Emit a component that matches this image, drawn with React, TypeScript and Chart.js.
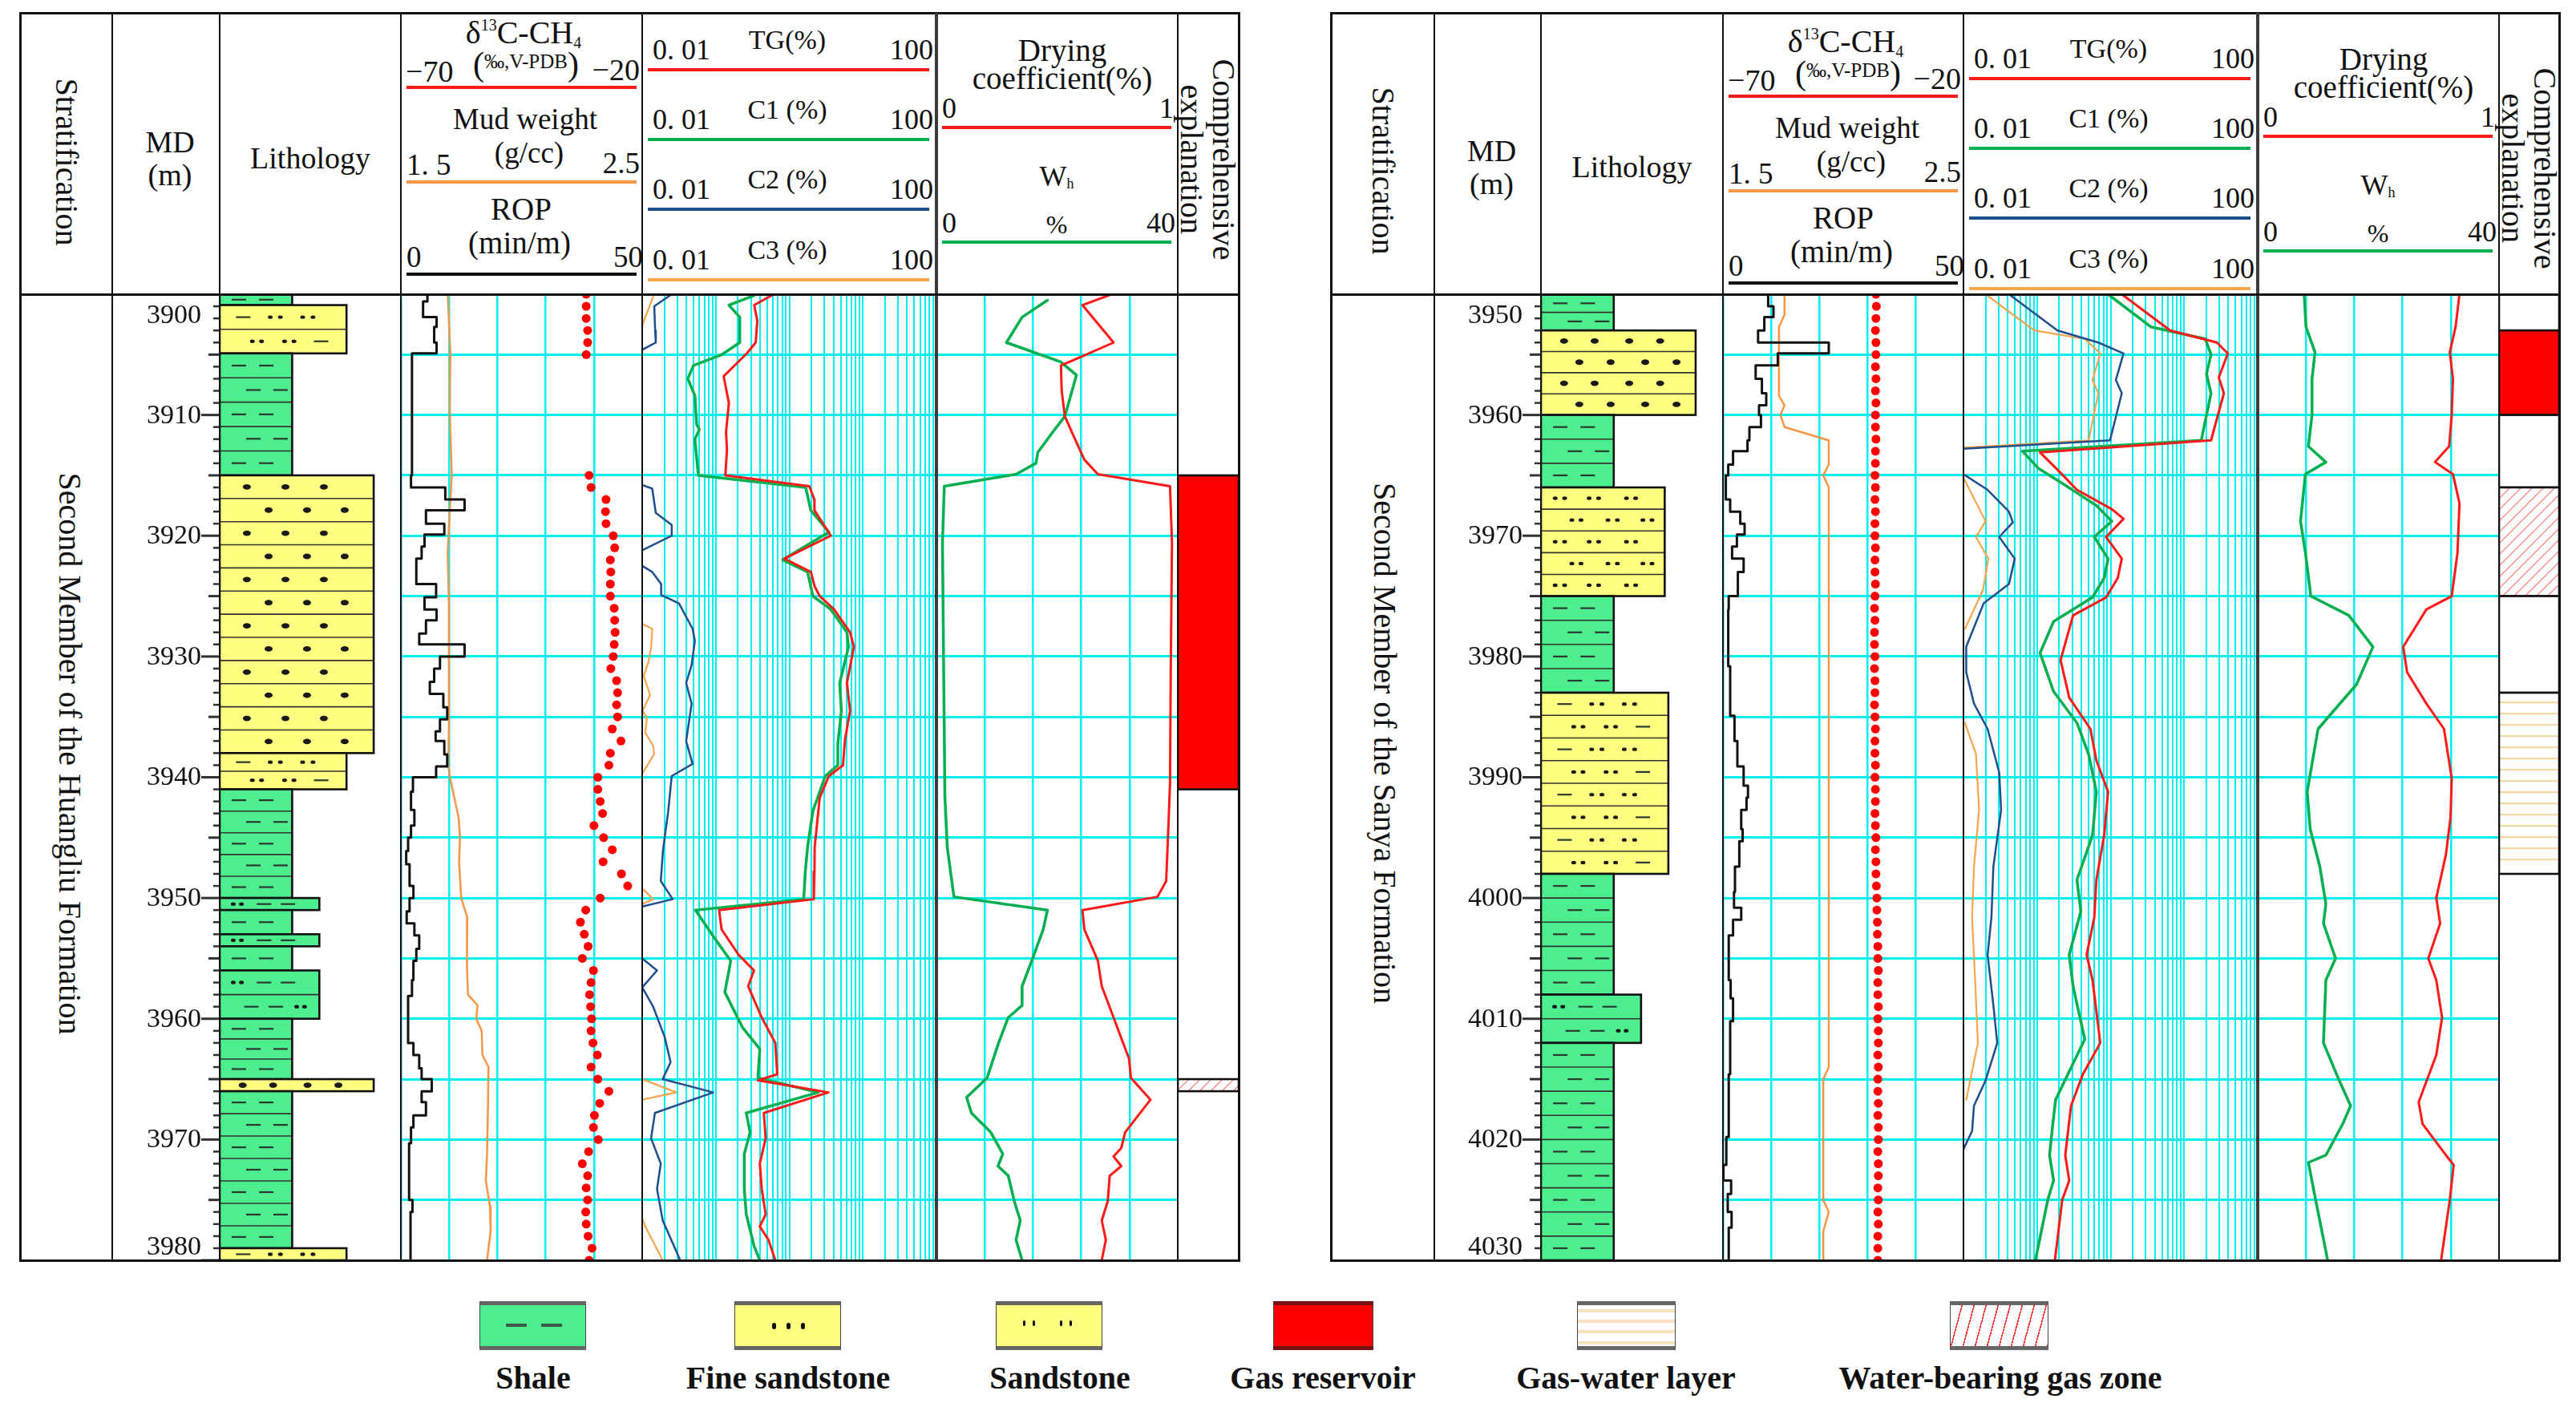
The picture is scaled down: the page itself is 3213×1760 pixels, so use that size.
import React, { useEffect, useRef } from 'react';
import { Chart, registerables } from 'chart.js';

Chart.register(...registerables);

// ------------------------------------------------------------------ data
const DEPTH_L = [3900, 3980];
const DEPTH_R = [3950, 4030];
const MD_TICKS_L = [3900, 3910, 3920, 3930, 3940, 3950, 3960, 3970, 3980];
const MD_TICKS_R = [3950, 3960, 3970, 3980, 3990, 4000, 4010, 4020, 4030];

// lithology: top, base, type
const LITH_L_TOP = [3900, 3900.9, 3904.9, 3915, 3938, 3941, 3950, 3951, 3953, 3954, 3956, 3960, 3965, 3966, 3979];
const LITH_L_BASE = [3900.9, 3904.9, 3915, 3938, 3941, 3950, 3951, 3953, 3954, 3956, 3960, 3965, 3966, 3979, 3980];
const LITH_L_TYPE = ['shale', 'sandstone', 'shale', 'fine', 'sandstone', 'shale', 'silty', 'shale', 'silty', 'shale', 'silty', 'shale', 'fine4', 'shale', 'sandstone'];
const LITH_R_TOP = [3950, 3953, 3960, 3966, 3975, 3983, 3998, 4008, 4012];
const LITH_R_BASE = [3953, 3960, 3966, 3975, 3983, 3998, 4008, 4012, 4030];
const LITH_R_TYPE = ['shale', 'fine4', 'shale', 'sanddots', 'shale', 'sandstone', 'shale', 'silty', 'shale'];

// comprehensive explanation
const COMP_L_TOP = [3915, 3965];
const COMP_L_BASE = [3941, 3966];
const COMP_L_TYPE = ['gas', 'wgas'];
const COMP_R_TOP = [3950, 3953, 3960, 3966, 3975, 3983];
const COMP_R_BASE = [3953, 3960, 3966, 3975, 3983, 3998];
const COMP_R_TYPE = ['none', 'gas', 'none', 'wgas', 'none', 'gw'];

// [depth (m), ROP (min/m)] - value applies from this depth down
const ROP_L = [[3900, 5.5], [3900.6, 4.6], [3901.9, 7.4], [3902.7, 6.9], [3904, 7.4], [3904.9, 2.3], [3915, 2.1], [3916, 9.2], [3917, 13.2], [3917.9, 5.2], [3919, 9.0], [3919.9, 4.9], [3920.9, 4.3], [3921.9, 3.2], [3924, 7.3], [3925.1, 4.9], [3926.1, 7.4], [3927, 5.2], [3928.1, 3.8], [3929, 13.2], [3930, 8.1], [3931, 6.9], [3932.1, 6.0], [3933.1, 8.8], [3934.2, 9.6], [3935.2, 8.1], [3936.2, 7.2], [3937, 9.0], [3938.1, 9.6], [3939.1, 7.3], [3940, 2.5], [3941.2, 2.1], [3942.7, 2.8], [3944, 2.1], [3945, 1.5], [3946.1, 1.1], [3947.2, 1.8], [3949, 2.6], [3950, 1.8], [3951.1, 1.2], [3952.1, 2.8], [3953.1, 3.8], [3954.2, 3.2], [3955.2, 2.6], [3956.8, 2.3], [3958.1, 1.5], [3962, 2.6], [3963, 3.8], [3964.1, 4.3], [3965, 6.4], [3966, 4.3], [3966.9, 5.2], [3968, 2.6], [3969, 2.1], [3970.3, 1.7], [3975, 2.4], [3976, 2.0], [3980, 2.0]];
const ROP_R = [[3950, 9.4], [3951, 10.5], [3951.9, 8.6], [3953, 7.3], [3954, 22.0], [3954.9, 11.4], [3955.9, 6.8], [3957, 8.1], [3958.2, 9.0], [3959.2, 7.5], [3960, 7.9], [3961, 5.5], [3962.1, 5.1], [3963, 2.1], [3964.1, 1.1], [3965, 0.6], [3967, 1.5], [3968, 3.6], [3969, 4.5], [3969.9, 2.9], [3970.9, 1.9], [3971.9, 4.3], [3973, 3.1], [3975, 1.2], [3976.1, 1.1], [3980.8, 1.5], [3984.9, 2.4], [3987, 3.0], [3989.1, 4.3], [3990.7, 5.2], [3991.7, 4.9], [3992.7, 3.8], [3994.3, 4.1], [3995.3, 3.4], [3997.4, 2.5], [3999.5, 2.3], [4000.8, 3.8], [4001.8, 2.1], [4003.1, 1.2], [4006.8, 1.6], [4008.3, 2.1], [4010.2, 1.5], [4014.6, 1.2], [4019.8, 0.7], [4022.1, 0.1], [4023.4, 1.7], [4024.5, 1.0], [4026, 1.8], [4027.3, 1.2], [4030, 1.2]];

// [depth, mud weight g/cc]
const MUD_L = [[3900, 1.694], [3904.8, 1.705], [3910, 1.703], [3915, 1.711], [3917.8, 1.703], [3921.4, 1.694], [3925.6, 1.699], [3930.8, 1.699], [3936, 1.699], [3939, 1.696], [3940, 1.703], [3943.3, 1.739], [3945, 1.745], [3947, 1.741], [3950, 1.75], [3951.6, 1.775], [3953.7, 1.773], [3955.7, 1.775], [3958, 1.778], [3958.9, 1.818], [3960, 1.812], [3961, 1.835], [3963, 1.838], [3964, 1.863], [3967.2, 1.861], [3971.3, 1.857], [3973.4, 1.852], [3975.5, 1.869], [3977.6, 1.872], [3980, 1.857]];
const MUD_R = [[3950, 1.756], [3951.7, 1.756], [3952.7, 1.733], [3958.4, 1.733], [3959.2, 1.756], [3960, 1.739], [3961, 1.756], [3962.1, 1.94], [3964.1, 1.94], [3965, 1.917], [3966, 1.94], [4014, 1.94], [4015, 1.917], [4025, 1.917], [4026, 1.94], [4027.6, 1.917], [4030, 1.917]];

// [depth, δ13C-CH4 ‰]
const D13_L = [[3900, -31.6], [3901, -31.6], [3902, -31.6], [3903, -31.3], [3904, -31.3], [3905, -31.6], [3915, -31.0], [3916, -30.6], [3917, -27.5], [3918, -27.6], [3919, -27.5], [3920, -26.0], [3921, -25.7], [3922, -26.6], [3923, -26.5], [3924, -26.6], [3925, -26.6], [3926, -25.8], [3927, -25.7], [3928, -25.6], [3929, -25.8], [3930, -26.0], [3931, -26.5], [3932, -25.3], [3933, -25.1], [3934, -25.3], [3935, -25.1], [3936, -26.2], [3937, -24.4], [3938, -26.6], [3939, -26.9], [3940, -29.2], [3941, -29.2], [3942, -28.7], [3943, -28.2], [3944, -30.0], [3945, -28.0], [3946, -26.2], [3947, -28.1], [3948, -24.3], [3949, -23.0], [3950, -28.7], [3951, -31.7], [3952, -32.8], [3953, -32.0], [3954, -31.2], [3955, -32.4], [3956, -30.1], [3957, -30.6], [3958, -30.9], [3959, -30.7], [3960, -30.5], [3961, -30.6], [3962, -30.2], [3963, -29.3], [3964, -30.6], [3965, -29.2], [3966, -26.9], [3967, -28.8], [3968, -29.9], [3969, -30.1], [3970, -29.1], [3971, -31.1], [3972, -32.4], [3973, -31.3], [3974, -31.6], [3975, -31.3], [3976, -31.7], [3977, -31.6], [3978, -31.2], [3979, -30.4], [3980, -31.0]];
const D13_R = [[3950, -38.2], [3951, -38.1], [3952, -38.2], [3953, -38.3], [3954, -38.2], [3955, -38.2], [3956, -38.3], [3957, -38.2], [3958, -38.3], [3959, -38.2], [3960, -38.3], [3961, -38.3], [3962, -38.2], [3963, -38.3], [3964, -38.3], [3965, -38.4], [3966, -38.3], [3967, -38.4], [3968, -38.3], [3969, -38.4], [3970, -38.4], [3971, -38.3], [3972, -38.4], [3973, -38.4], [3974, -38.3], [3975, -38.4], [3976, -38.5], [3977, -38.4], [3978, -38.5], [3979, -38.5], [3980, -38.4], [3981, -38.5], [3982, -38.4], [3983, -38.4], [3984, -38.5], [3985, -38.4], [3986, -38.3], [3987, -38.4], [3988, -38.4], [3989, -38.3], [3990, -38.4], [3991, -38.3], [3992, -38.3], [3993, -38.4], [3994, -38.3], [3995, -38.2], [3996, -38.3], [3997, -38.2], [3998, -38.2], [3999, -38.1], [4000, -38.0], [4001, -38.0], [4002, -37.9], [4003, -37.9], [4004, -37.8], [4005, -37.8], [4006, -37.7], [4007, -37.8], [4008, -37.8], [4009, -37.7], [4010, -37.8], [4011, -37.7], [4012, -37.7], [4013, -37.8], [4014, -37.7], [4015, -37.8], [4016, -37.8], [4017, -37.7], [4018, -37.8], [4019, -37.7], [4020, -37.7], [4021, -37.8], [4022, -37.7], [4023, -37.7], [4024, -37.8], [4025, -37.7], [4026, -37.8], [4027, -37.7], [4028, -37.8], [4029, -37.8], [4030, -37.8]];

// gas logging [depth, %]  (null = off-scale break)
const TG_L = [[3900.1, 0.577], [3900.9, 0.333], [3902.2, 0.367], [3904.0, 0.349], [3904.9, 0.265], [3906.8, 0.128], [3909.0, 0.151], [3911.4, 0.138], [3912.9, 0.142], [3915.0, 0.135], [3915.9, 1.87], [3917.0, 2.19], [3917.9, 2.2], [3920.0, 3.66], [3921.9, 0.855], [3923.0, 1.96], [3924.2, 2.21], [3925.0, 2.59], [3926.1, 4.06], [3928.0, 6.7], [3929.2, 7.55], [3932.2, 6.07], [3934.5, 6.7], [3936.9, 5.71], [3939.0, 5.37], [3939.9, 3.45], [3941.7, 2.59], [3945.8, 2.21], [3947.8, 2.2], [3950.1, 2.15], [3951.0, 0.111], [3952.6, 0.12], [3954.7, 0.204], [3956.0, 0.331], [3957.3, 0.276], [3959.9, 0.422], [3962.0, 0.645], [3964.6, 0.686], [3965.1, 0.374], [3966.1, 3.4], [3967.8, 0.45], [3969.9, 0.477], [3972.0, 0.397], [3974.1, 0.422], [3976.2, 0.477], [3977.2, 0.397], [3978.3, 0.52], [3980, 0.645]];
const C1_L = [[3900.1, 0.331], [3900.9, 0.151], [3901.9, 0.212], [3904.0, 0.212], [3905.0, 0.121], [3905.9, 0.0497], [3907.0, 0.0417], [3908.4, 0.052], [3910.8, 0.055], [3911.2, 0.06], [3912.0, 0.052], [3915.0, 0.058], [3916.0, 1.67], [3917.9, 1.96], [3919.7, 3.45], [3922.0, 0.81], [3923.0, 1.77], [3925.0, 2.09], [3926.1, 3.66], [3928.0, 6.07], [3929.2, 6.37], [3932.2, 4.84], [3934.5, 5.1], [3937.2, 4.57], [3939.0, 4.57], [3939.9, 3.08], [3942.8, 2.09], [3945.8, 1.77], [3947.8, 1.65], [3950.1, 1.57], [3951.0, 0.053], [3953.4, 0.098], [3955.2, 0.16], [3957.8, 0.133], [3960.7, 0.23], [3962.5, 0.397], [3964.9, 0.374], [3966.1, 2.46], [3967.8, 0.26], [3969.4, 0.293], [3971.2, 0.244], [3974.1, 0.244], [3976.2, 0.26], [3978.8, 0.331], [3980, 0.397]];
const C2_L = [[3900.0, 0.0252], [3901.0, 0.0146], [3903.0, 0.015], [3904.0, 0.0153], [3904.6, 0.01], [3904.7, null], [3915.8, 0.01], [3916.1, 0.0137], [3918.1, 0.0153], [3919.1, 0.0252], [3920.0, 0.0252], [3921.2, 0.01], [3921.3, null], [3922.5, 0.01], [3923.0, 0.0137], [3924.0, 0.0181], [3924.9, 0.0181], [3925.6, 0.0316], [3927.7, 0.0484], [3928.7, 0.052], [3930.7, 0.047], [3932.2, 0.0396], [3933.9, 0.047], [3937.0, 0.0396], [3938.9, 0.0484], [3939.9, 0.0252], [3942.8, 0.0226], [3946.0, 0.0192], [3948.6, 0.0179], [3950.1, 0.026], [3950.7, 0.01], [3950.8, null], [3955.0, 0.01], [3956.0, 0.0159], [3957.4, 0.01], [3959.0, 0.0141], [3961.5, 0.0202], [3963.6, 0.0243], [3965.0, 0.019], [3966.1, 0.0925], [3967.8, 0.0149], [3969.9, 0.0132], [3972.0, 0.0179], [3974.1, 0.0159], [3976.7, 0.019], [3980, 0.0329]];
const C3_L = [[3900.0, 0.0145], [3902.5, 0.0101], [3902.6, null], [3927.3, 0.01], [3927.7, 0.0137], [3929.3, 0.0132], [3930.4, 0.0122], [3931.6, 0.0105], [3933.2, 0.0128], [3934.5, 0.0101], [3935.1, 0.0116], [3936.3, 0.011], [3937.4, 0.0141], [3938.1, 0.0145], [3939.7, 0.01], [3939.8, null], [3949.2, 0.01], [3950.1, 0.0141], [3950.5, 0.01], [3950.6, null], [3965.0, 0.01], [3966.1, 0.0291], [3966.7, 0.01], [3966.8, null], [3976.5, 0.01], [3977.2, 0.011], [3980, 0.019]];
const TG_R = [[3950, 1.42], [3953, 6.47], [3954, 27.9], [3954.9, 39.2], [3956.9, 29.6], [3958.2, 34.7], [3962.1, 23.2], [3963.1, 0.11], [3964.7, 0.202], [3966.2, 0.349], [3967.8, 1.04], [3968.6, 1.5], [3970.1, 0.87], [3971.9, 1.42], [3973.5, 1.25], [3975.1, 0.87], [3976.6, 0.309], [3980.3, 0.209], [3983.4, 0.274], [3986, 0.532], [3988.6, 0.641], [3991.2, 0.924], [3994.8, 0.818], [3998.5, 0.641], [4001.6, 0.6], [4004.7, 0.473], [4006.8, 0.568], [4012, 0.724], [4014.6, 0.42], [4017.2, 0.29], [4021.3, 0.242], [4023.4, 0.274], [4025, 0.22], [4030, 0.175]];
const C1_R = [[3950, 0.924], [3952.7, 3.52], [3953.7, 19.4], [3955, 23.2], [3956.6, 20.1], [3958.2, 23.2], [3962.1, 17.1], [3963, 0.0635], [3964.4, 0.1035], [3965.7, 0.226], [3967.5, 0.641], [3968.8, 1.04], [3970.1, 0.6], [3971.9, 0.924], [3973.5, 0.818], [3975.1, 0.568], [3977.1, 0.168], [3979.7, 0.11], [3982.9, 0.168], [3985.5, 0.349], [3988.1, 0.503], [3991.2, 0.641], [3994.8, 0.568], [3998.5, 0.349], [4001.1, 0.394], [4004.7, 0.274], [4007.3, 0.309], [4011.7, 0.446], [4016.7, 0.179], [4018.7, 0.164], [4021.3, 0.148], [4023.4, 0.168], [4025, 0.14], [4030, 0.095]];
const C2_R = [[3950, 0.0415], [3953, 0.19], [3954, 0.68], [3954.9, 1.5], [3957.1, 1.18], [3958.2, 1.42], [3962.1, 0.982], [3962.8, 0.01], [3962.9, null], [3964.9, 0.01], [3966.2, 0.0213], [3968, 0.0415], [3968.9, 0.0469], [3970.1, 0.0306], [3971.9, 0.0498], [3974, 0.0415], [3975.6, 0.0188], [3979.2, 0.0109], [3981.3, 0.0109], [3983.9, 0.0139], [3986, 0.0213], [3989.6, 0.0306], [3992.7, 0.0325], [3997.4, 0.0255], [4001.6, 0.024], [4004.7, 0.0213], [4008.9, 0.0255], [4012, 0.0288], [4015.1, 0.02], [4017.2, 0.0139], [4019.3, 0.0131], [4020.8, 0.01]];
const C3_R = [[3950, 0.02], [3953, 0.0915], [3953.7, 0.446], [3954.9, 0.724], [3957.1, 0.568], [3958.2, 0.68], [3962.1, 0.503], [3962.7, 0.01], [3962.8, null], [3965.2, 0.01], [3968.8, 0.02], [3970.1, 0.0148], [3971.9, 0.0218], [3974.5, 0.0184], [3977.7, 0.0105], [3977.8, null], [3985.5, 0.0105], [3988.1, 0.0148], [3992.7, 0.0163], [3997.4, 0.0139], [4001.6, 0.0131], [4006.8, 0.0144], [4012, 0.0157], [4016.7, 0.0109]];

// drying coefficient [depth, 0-1] and Wh [depth, %]
const DRY_L = [[3900, 0.726], [3900.9, 0.605], [3904, 0.734], [3905.2, 0.597], [3905.9, 0.516], [3908, 0.519], [3910.1, 0.532], [3911.6, 0.565], [3913.7, 0.613], [3914.9, 0.669], [3915.9, 0.968], [3920.6, 0.976], [3931.1, 0.971], [3940.5, 0.968], [3944.7, 0.96], [3948.6, 0.952], [3949.9, 0.916], [3951, 0.605], [3952.6, 0.613], [3955.2, 0.669], [3957.3, 0.685], [3959.9, 0.734], [3963.3, 0.798], [3964.9, 0.806], [3966.7, 0.887], [3969.4, 0.782], [3970.7, 0.766], [3971.4, 0.734], [3972.2, 0.766], [3973, 0.718], [3975.1, 0.71], [3976.7, 0.685], [3978.3, 0.702], [3980, 0.685]];
const WH_L = [[3900.5, 18.4], [3901.9, 14.2], [3904, 11.6], [3905.6, 20.6], [3906.7, 23.2], [3910.1, 21.3], [3911.6, 19.0], [3913.1, 16.8], [3914, 16.5], [3914.9, 13.2], [3915.9, 1.3], [3920.6, 1.0], [3931.1, 1.2], [3941.6, 1.4], [3945.8, 1.8], [3949.9, 2.9], [3951, 18.4], [3952.6, 17.7], [3955.2, 15.8], [3957.3, 14.2], [3958.9, 14.2], [3959.9, 11.9], [3962, 10.3], [3964.9, 8.4], [3966.5, 5.0], [3967.8, 5.8], [3969.4, 9.0], [3971.2, 11.0], [3972.2, 10.2], [3973, 11.9], [3975.1, 12.9], [3976.7, 13.9], [3978.3, 13.2], [3980, 14.2]];
const DRY_R = [[3950, 0.836], [3952.7, 0.82], [3954.8, 0.796], [3957, 0.809], [3960, 0.804], [3962.6, 0.793], [3963.9, 0.735], [3964.9, 0.809], [3967.3, 0.836], [3971.4, 0.828], [3975, 0.804], [3976.1, 0.699], [3979.2, 0.603], [3981.3, 0.619], [3983.9, 0.699], [3986, 0.772], [3990.1, 0.804], [3993.3, 0.799], [3996.4, 0.78], [4000, 0.74], [4002.1, 0.756], [4005, 0.707], [4006.8, 0.74], [4009.9, 0.764], [4013, 0.74], [4016.9, 0.667], [4018.7, 0.683], [4021.3, 0.78], [4022.1, 0.812], [4025, 0.796], [4030, 0.76]];
const WH_R = [[3950, 7.7], [3952.7, 8.0], [3954.8, 9.5], [3957, 9.0], [3960, 9.0], [3962.6, 8.4], [3963.9, 11.3], [3964.9, 7.9], [3968.8, 7.1], [3971.4, 7.9], [3975, 8.8], [3976.6, 15.1], [3979.2, 19.1], [3982.3, 16.4], [3986, 10.0], [3991.2, 8.2], [3994.3, 8.7], [3997.4, 10.3], [4000.5, 11.3], [4002.1, 10.9], [4005, 12.9], [4006.8, 11.3], [4012, 10.9], [4015.1, 13.5], [4017.2, 15.4], [4018.7, 14.1], [4021.3, 11.3], [4021.9, 8.4], [4025, 9.6], [4030, 11.6]];

const LEGEND_LABELS = ['Shale', 'Fine sandstone', 'Sandstone', 'Gas reservoir', 'Gas-water layer', 'Water-bearing gas zone'];

// ------------------------------------------------------------------ styles
const SERIF = '"Liberation Serif", "Times New Roman", "DejaVu Serif", serif';
const CYAN = '#00F0F2';
const RED = '#FF1A1A';
const GREEN = '#00B050';
const BLUE = '#1F4E8C';
const ORANGE = '#F8A54E';
const MUD_ORANGE = '#F79646';
const SHALE = '#4DEE8E';
const SAND = '#FFFF80';
const TOP = 16;
const HEAD = 367;
const BOTTOM = 1572;

const LITH_STYLE: any = {
  shale: { w: 0.4, fill: SHALE, a: [['dash', 0.106], ['dash', 0.257]], b: [['dash', 0.186], ['dash', 0.336]] },
  silty: { w: 0.55, fill: SHALE, a: [['dot', 0.075], ['dot', 0.12], ['dash', 0.245], ['dash', 0.377]], b: [['dash', 0.175], ['dash', 0.31], ['dot', 0.425], ['dot', 0.468]] },
  fine: { w: 0.85, fill: SAND, a: [['big', 0.15], ['big', 0.363], ['big', 0.575]], b: [['big', 0.27], ['big', 0.482], ['big', 0.69]] },
  fine4: { w: 0.85, fill: SAND, a: [['big', 0.127], ['big', 0.295], ['big', 0.485], ['big', 0.655]], b: [['big', 0.211], ['big', 0.383], ['big', 0.573], ['big', 0.745]] },
  sandstone: { w: 0.7, fill: SAND, a: [['dash', 0.13], ['dot', 0.279], ['dot', 0.335], ['dot', 0.458], ['dot', 0.515]], b: [['dot', 0.18], ['dot', 0.231], ['dot', 0.358], ['dot', 0.41], ['dash', 0.56]] },
  sanddots: { w: 0.68, fill: SAND, a: [['dot', 0.078], ['dot', 0.13], ['dot', 0.265], ['dot', 0.317], ['dot', 0.47], ['dot', 0.52]], b: [['dot', 0.17], ['dot', 0.22], ['dot', 0.368], ['dot', 0.42], ['dot', 0.56], ['dot', 0.61]] },
};

const LOG_GRID: number[] = [];
[0.01, 0.1, 1, 10].forEach((dec) => [1, 2, 3, 4, 5, 6, 7, 8, 9].forEach((m) => LOG_GRID.push(+(dec * m).toPrecision(3))));
LOG_GRID.push(100);

const LEFT = {
  x0: 25, x1: 1545, cols: [140, 274, 500, 801, 1168, 1469], yOff: 0, range: DEPTH_L,
  formation: 'Second Member of the Huangliu Formation', fmX: 87, fmY: 940, md: MD_TICKS_L,
  lith: [LITH_L_TOP, LITH_L_BASE, LITH_L_TYPE], comp: [COMP_L_TOP, COMP_L_BASE, COMP_L_TYPE],
  rop: ROP_L, mud: MUD_L, iso: D13_L, tg: TG_L, c1: C1_L, c2: C2_L, c3: C3_L, dry: DRY_L, wh: WH_L,
};
const RIGHT = {
  x0: 1660, x1: 3192, cols: [1789, 1922, 2149, 2449, 2816, 3117], yOff: 11, range: DEPTH_R,
  formation: 'Second Member of the Sanya Formation', fmX: 1727, fmY: 927, md: MD_TICKS_R,
  lith: [LITH_R_TOP, LITH_R_BASE, LITH_R_TYPE], comp: [COMP_R_TOP, COMP_R_BASE, COMP_R_TYPE],
  rop: ROP_R, mud: MUD_R, iso: D13_R, tg: TG_R, c1: C1_R, c2: C2_R, c3: C3_R, dry: DRY_R, wh: WH_R,
};

// ------------------------------------------------------------------ chart helpers
const pts = (arr: any[]) => arr.map(([d, v]: any) => ({ x: v, y: d }));

function depthScale(range: number[], grid: boolean) {
  if (!grid) return { type: 'linear', reverse: true, min: range[0], max: range[1], display: false };
  return {
    type: 'linear', reverse: true, min: range[0], max: range[1],
    ticks: { display: false, stepSize: 5 }, border: { display: false },
    grid: { color: CYAN, lineWidth: 3, drawTicks: false },
  };
}

function baseOptions(range: number[], xScales: any, grid = true) {
  return {
    responsive: false, maintainAspectRatio: false, animation: false, devicePixelRatio: 1, events: [],
    indexAxis: 'y',
    layout: { padding: 0, autoPadding: false },
    plugins: { legend: { display: false }, tooltip: { enabled: false }, title: { display: false } },
    elements: { point: { radius: 0, hoverRadius: 0 }, line: { tension: 0, borderJoinStyle: 'round', borderCapStyle: 'round' } },
    scales: { ...xScales, y: depthScale(range, grid) },
  };
}

const gridX = (type: string, min: number, max: number, step: number) => ({
  type, min, max,
  ticks: { display: false, stepSize: step },
  border: { display: false },
  grid: { color: CYAN, lineWidth: 2.5, drawTicks: false },
});

function track1(p: any) {
  return {
    type: 'line',
    data: {
      datasets: [
        { data: pts(p.rop), xAxisID: 'x', borderColor: '#111', borderWidth: 3, stepped: 'after', pointRadius: 0 },
        { data: pts(p.mud), xAxisID: 'xMud', borderColor: MUD_ORANGE, borderWidth: 2.5, pointRadius: 0 },
        { data: pts(p.iso), xAxisID: 'xIso', showLine: false, pointRadius: 5.5, pointBackgroundColor: '#FF0000', pointBorderWidth: 0, borderColor: '#FF0000' },
      ],
    },
    options: baseOptions(p.range, {
      x: gridX('linear', 0, 50, 10),
      xMud: { type: 'linear', axis: 'x', min: 1.5, max: 2.5, display: false },
      xIso: { type: 'linear', axis: 'x', min: -70, max: -20, display: false },
    }),
  };
}

function track2(p: any) {
  const ds = (arr: any[], color: string, w: number) => ({ data: pts(arr), borderColor: color, borderWidth: w, pointRadius: 0, spanGaps: false });
  return {
    type: 'line',
    data: { datasets: [ds(p.tg, RED, 3), ds(p.c1, GREEN, 3.5), ds(p.c2, BLUE, 2.5), ds(p.c3, ORANGE, 2.2)] },
    options: baseOptions(p.range, {
      x: {
        type: 'logarithmic', min: 0.01, max: 100,
        ticks: { display: false }, border: { display: false },
        grid: { color: CYAN, lineWidth: 2, drawTicks: false },
        afterBuildTicks: (axis: any) => { axis.ticks = LOG_GRID.map((value) => ({ value })); },
      },
    }),
  };
}

function track3(p: any) {
  return {
    type: 'line',
    data: {
      datasets: [
        { data: pts(p.dry), xAxisID: 'x', borderColor: RED, borderWidth: 3, pointRadius: 0 },
        { data: pts(p.wh), xAxisID: 'xWh', borderColor: GREEN, borderWidth: 3.5, pointRadius: 0 },
      ],
    },
    options: baseOptions(p.range, {
      x: gridX('linear', 0, 1, 0.2),
      xWh: { type: 'linear', axis: 'x', min: 0, max: 40, display: false },
    }),
  };
}

function drawGlyph(ctx: CanvasRenderingContext2D, kind: string, x: number, y: number) {
  ctx.fillStyle = '#1a1a1a';
  if (kind === 'dash') {
    ctx.fillStyle = '#2b3a30';
    ctx.fillRect(x - 9, y - 1.1, 18, 2.2);
  } else if (kind === 'dot') {
    ctx.beginPath(); ctx.ellipse(x, y, 3, 2.2, 0, 0, Math.PI * 2); ctx.fill();
  } else {
    ctx.beginPath(); ctx.ellipse(x, y, 5, 3.4, 0, 0, Math.PI * 2); ctx.fill();
  }
}

function lithPlugin(tops: number[], bases: number[], types: string[]) {
  return {
    id: 'lith',
    afterDatasetsDraw(chart: any) {
      const { ctx } = chart; const xs = chart.scales.x; const ys = chart.scales.y;
      const x0 = xs.getPixelForValue(0); const full = xs.getPixelForValue(1) - x0;
      ctx.save();
      tops.forEach((top, i) => {
        const st = LITH_STYLE[types[i]];
        const x1 = xs.getPixelForValue(st.w);
        const y0 = ys.getPixelForValue(top); const y1 = ys.getPixelForValue(bases[i]);
        ctx.fillStyle = st.fill; ctx.fillRect(x0, y0, x1 - x0, y1 - y0);
        const n = Math.max(1, Math.round((bases[i] - top) / 2));
        const rh = (y1 - y0) / n;
        for (let r = 0; r < n; r++) {
          const ry = y0 + r * rh;
          if (r > 0) { ctx.strokeStyle = '#333'; ctx.lineWidth = 1.6; ctx.beginPath(); ctx.moveTo(x0, ry); ctx.lineTo(x1, ry); ctx.stroke(); }
          (r % 2 === 0 ? st.a : st.b).forEach(([k, f]: any) => drawGlyph(ctx, k, x0 + f * full, ry + rh / 2));
        }
        ctx.strokeStyle = '#111'; ctx.lineWidth = 2.6; ctx.strokeRect(x0, y0, x1 - x0, y1 - y0);
      });
      ctx.restore();
    },
  };
}

function compPlugin(tops: number[], bases: number[], types: string[]) {
  return {
    id: 'comp',
    afterDatasetsDraw(chart: any) {
      const { ctx } = chart; const xs = chart.scales.x; const ys = chart.scales.y;
      const x0 = xs.getPixelForValue(0); const x1 = xs.getPixelForValue(1);
      tops.forEach((top, i) => {
        const y0 = ys.getPixelForValue(top); const y1 = ys.getPixelForValue(bases[i]);
        const w = x1 - x0; const h = y1 - y0;
        ctx.save();
        ctx.fillStyle = types[i] === 'gas' ? '#FF0000' : '#FFFFFF';
        ctx.fillRect(x0, y0, w, h);
        ctx.beginPath(); ctx.rect(x0, y0, w, h); ctx.clip();
        if (types[i] === 'wgas') {
          ctx.strokeStyle = 'rgba(255,70,70,0.6)'; ctx.lineWidth = 1.5;
          for (let k = -h; k < w + h; k += 14) { ctx.beginPath(); ctx.moveTo(x0 + k, y1); ctx.lineTo(x0 + k + h, y0); ctx.stroke(); }
        } else if (types[i] === 'gw') {
          ctx.strokeStyle = '#F7D9A6'; ctx.lineWidth = 2.2;
          for (let yy = y0 + 12; yy < y1 - 4; yy += 14) { ctx.beginPath(); ctx.moveTo(x0, yy); ctx.lineTo(x1, yy); ctx.stroke(); }
        }
        ctx.restore();
        ctx.save(); ctx.strokeStyle = '#111'; ctx.lineWidth = 2.6; ctx.strokeRect(x0, y0, w, h); ctx.restore();
      });
    },
  };
}

function mdPlugin(labels: number[]) {
  return {
    id: 'md',
    afterDraw(chart: any) {
      const { ctx, chartArea } = chart; const ys = chart.scales.y;
      const right = chartArea.right;
      ctx.save();
      ctx.strokeStyle = '#333';
      for (let d = ys.min; d <= ys.max; d++) {
        const py = ys.getPixelForValue(d);
        const len = d % 10 === 0 ? 23 : d % 5 === 0 ? 14 : 8;
        ctx.lineWidth = d % 5 === 0 ? 3 : 2.5;
        ctx.beginPath(); ctx.moveTo(right - len, py); ctx.lineTo(right, py); ctx.stroke();
      }
      ctx.fillStyle = '#111';
      ctx.font = `34px ${SERIF}`;
      ctx.textAlign = 'right'; ctx.textBaseline = 'middle';
      labels.forEach((d) => {
        const py = Math.min(Math.max(ys.getPixelForValue(d), chartArea.top + 26), chartArea.bottom - 17);
        ctx.fillText(String(d), right - 23, py + 1);
      });
      ctx.restore();
    },
  };
}

function blankChart(p: any, plugin: any) {
  return {
    type: 'scatter',
    data: { datasets: [] },
    options: baseOptions(p.range, { x: { type: 'linear', min: 0, max: 1, display: false } }, false),
    plugins: [plugin],
  };
}

// ------------------------------------------------------------------ components
function ChartBox({ x, y, w, h, build }: any) {
  const ref = useRef<HTMLCanvasElement>(null);
  useEffect(() => {
    const chart = new Chart(ref.current as HTMLCanvasElement, build());
    return () => chart.destroy();
  }, []);
  return <canvas ref={ref} width={w} height={h} style={{ position: 'absolute', left: x, top: y, width: w, height: h }} />;
}

const Txt = ({ x, y, size = 36, align = 'c', bold = false, children }: any) => (
  <div style={{
    position: 'absolute', left: x, top: y,
    transform: `translate(${align === 'c' ? '-50%' : align === 'r' ? '-100%' : '0'}, -50%)`,
    fontFamily: SERIF, fontSize: size, fontWeight: bold ? 700 : 400, lineHeight: 1, whiteSpace: 'nowrap', color: '#111',
  }}>{children}</div>
);

const VTxt = ({ x, y, size = 40, lh = 1, children }: any) => (
  <div style={{
    position: 'absolute', left: x, top: y, transform: 'translate(-50%, -50%)', writingMode: 'vertical-rl' as any,
    fontFamily: SERIF, fontSize: size, lineHeight: lh, whiteSpace: 'pre', color: '#111', textAlign: 'center',
  }}>{children}</div>
);

const HL = ({ x1, x2, y, color, h = 4 }: any) => (
  <div style={{ position: 'absolute', left: x1, top: y - h / 2, width: x2 - x1, height: h, background: color }} />
);

function Header({ p }: any) {
  const [c0, c1, c2, c3, c4, c5] = p.cols;
  const o = p.yOff;
  const gasRows = [['TG(%)', RED, 87], ['C1 (%)', GREEN, 174], ['C2 (%)', BLUE, 261], ['C3 (%)', ORANGE, 349]];
  return (
    <>
      <VTxt x={(p.x0 + c0) / 2} y={202 + o} size={40}>Stratification</VTxt>
      <Txt x={(c0 + c1) / 2 + 5} y={177 + o} size={38}>MD</Txt>
      <Txt x={(c0 + c1) / 2 + 5} y={218 + o} size={38}>(m)</Txt>
      <Txt x={(c1 + c2) / 2} y={197 + o} size={38}>Lithology</Txt>

      <Txt x={c2 + 153} y={42 + o} size={40}>δ<sup style={{ fontSize: '0.5em', verticalAlign: '0.8em' }}>13</sup>C-CH<sub style={{ fontSize: '0.5em', verticalAlign: '-0.3em' }}>4</sub></Txt>
      <Txt x={c2 + 6} y={89 + o} size={38} align="l">−70</Txt>
      <Txt x={c3 - 3} y={87 + o} size={38} align="r">−20</Txt>
      <div style={{ position: 'absolute', left: c2 + 156, top: 80 + o, transform: 'translate(-50%, -50%)', display: 'flex', alignItems: 'flex-start', fontFamily: SERIF, lineHeight: 1, whiteSpace: 'nowrap', color: '#111' }}>
        <span style={{ fontSize: 42 }}>(</span><span style={{ fontSize: 25, paddingTop: 5 }}>‰,V-PDB</span><span style={{ fontSize: 42 }}>)</span>
      </div>
      <HL x1={c2 + 7} x2={c3 - 7} y={109 + o} color={RED} />
      <Txt x={c2 + 155} y={148 + o} size={37}>Mud weight</Txt>
      <Txt x={c2 + 160} y={190 + o} size={37}>(g/cc)</Txt>
      <Txt x={c2 + 7} y={205 + o} size={37} align="l">1. 5</Txt>
      <Txt x={c3 - 3} y={203 + o} size={37} align="r">2.5</Txt>
      <HL x1={c2 + 7} x2={c3 - 7} y={227 + o} color={MUD_ORANGE} />
      <Txt x={c2 + 150} y={260 + o} size={39}>ROP</Txt>
      <Txt x={c2 + 148} y={302 + o} size={39}>(min/m)</Txt>
      <Txt x={c2 + 7} y={320 + o} size={37} align="l">0</Txt>
      <Txt x={c3 + 1} y={320 + o} size={37} align="r">50</Txt>
      <HL x1={c2 + 7} x2={c3 - 7} y={342 + o} color="#111" h={4} />

      {gasRows.map(([label, color, ly]: any) => (
        <React.Fragment key={label}>
          <Txt x={c3 + 181} y={ly - 37 + o} size={34}>{label}</Txt>
          <Txt x={c3 + 13} y={ly - 25 + o} size={36} align="l">0. 01</Txt>
          <Txt x={c4 - 4} y={ly - 25 + o} size={36} align="r">100</Txt>
          <HL x1={c3 + 7} x2={c4 - 9} y={ly + o} color={color} />
        </React.Fragment>
      ))}

      <Txt x={c4 + 157} y={62 + o} size={39}>Drying</Txt>
      <Txt x={c4 + 157} y={97 + o} size={39}>coefficient(%)</Txt>
      <Txt x={c4 + 7} y={135 + o} size={36} align="l">0</Txt>
      <Txt x={c5 - 5} y={135 + o} size={36} align="r">1</Txt>
      <HL x1={c4 + 7} x2={c5 - 8} y={159 + o} color={RED} />
      <Txt x={c4 + 150} y={220 + o} size={36}>W<sub style={{ fontSize: '0.5em', verticalAlign: '-0.2em' }}>h</sub></Txt>
      <Txt x={c4 + 7} y={278 + o} size={36} align="l">0</Txt>
      <Txt x={c4 + 150} y={280 + o} size={32}>%</Txt>
      <Txt x={c5 - 3} y={278 + o} size={36} align="r">40</Txt>
      <HL x1={c4 + 7} x2={c5 - 8} y={302 + o} color={GREEN} />

      <VTxt x={c5 + 37} y={199 + o} size={40} lh={1}>{'Comprehensive\nexplanation'}</VTxt>

      <VTxt x={p.fmX} y={p.fmY} size={40}>{p.formation}</VTxt>
    </>
  );
}

function Frame({ p }: any) {
  return (
    <>
      <div style={{ position: 'absolute', left: p.x0 - 1.5, top: TOP - 1.5, width: p.x1 - p.x0 + 3, height: BOTTOM - TOP + 3, border: '3px solid #111', boxSizing: 'border-box' }} />
      {p.cols.map((c: number, i: number) => {
        const w = i === 4 ? 3.5 : 2.6;
        return <div key={i} style={{ position: 'absolute', left: c - w / 2, top: TOP, width: w, height: BOTTOM - TOP, background: i === 4 ? '#3a3a3a' : '#111' }} />;
      })}
      <div style={{ position: 'absolute', left: p.x0, top: HEAD - 1.5, width: p.x1 - p.x0, height: 3, background: '#111' }} />
    </>
  );
}

function Panel({ p }: any) {
  const [c0, c1, c2, c3, c4, c5] = p.cols;
  const h = BOTTOM - HEAD;
  return (
    <>
      <ChartBox x={c0} y={HEAD} w={c1 - c0} h={h} build={() => blankChart(p, mdPlugin(p.md))} />
      <ChartBox x={c1} y={HEAD} w={c2 - c1} h={h} build={() => blankChart(p, lithPlugin(p.lith[0], p.lith[1], p.lith[2]))} />
      <ChartBox x={c2} y={HEAD} w={c3 - c2} h={h} build={() => track1(p)} />
      <ChartBox x={c3} y={HEAD} w={c4 - c3} h={h} build={() => track2(p)} />
      <ChartBox x={c4} y={HEAD} w={c5 - c4} h={h} build={() => track3(p)} />
      <ChartBox x={c5} y={HEAD} w={p.x1 - c5} h={h} build={() => blankChart(p, compPlugin(p.comp[0], p.comp[1], p.comp[2]))} />
      <Header p={p} />
      <Frame p={p} />
    </>
  );
}

function LegendBox({ x, w, kind }: any) {
  const y = 1623; const h = 61;
  const borderCol = kind === 'gas' ? '#7a1010' : '#666';
  let bg: any = '#fff';
  if (kind === 'shale') bg = SHALE;
  if (kind === 'fine' || kind === 'sand') bg = SAND;
  if (kind === 'gas') bg = '#FF0000';
  if (kind === 'wgas') bg = 'repeating-linear-gradient(105deg, #fff 0px, #fff 13px, #ff3030 13px, #ff3030 14.5px)';
  const cx = w / 2; const cy = h / 2;
  const mark = (l: number, t: number, mw: number, mh: number, col: string, r = 0) => (
    <div style={{ position: 'absolute', left: l - mw / 2, top: t - mh / 2, width: mw, height: mh, background: col, borderRadius: r }} />
  );
  return (
    <div style={{ position: 'absolute', left: x, top: y, width: w, height: h, background: bg, borderTop: `5px solid ${borderCol}`, borderBottom: `5px solid ${borderCol}`, borderLeft: '1.5px solid #444', borderRight: '1.5px solid #444', boxSizing: 'border-box' }}>
      {kind === 'shale' && <>{mark(cx - 22, cy - 6, 26, 4, '#3d5a48')}{mark(cx + 22, cy - 6, 26, 4, '#3d5a48')}</>}
      {kind === 'fine' && <>{mark(cx - 18, cy - 5, 5, 8, '#111', 3)}{mark(cx, cy - 5, 5, 8, '#111', 3)}{mark(cx + 18, cy - 5, 5, 8, '#111', 3)}</>}
      {kind === 'sand' && <>{mark(cx - 32, cy - 8, 3, 7, '#111', 2)}{mark(cx - 20, cy - 8, 3, 7, '#111', 2)}{mark(cx + 14, cy - 8, 3, 7, '#111', 2)}{mark(cx + 26, cy - 8, 3, 7, '#111', 2)}</>}
      {kind === 'gw' && [10, 23, 36, 50].map((t) => <div key={t} style={{ position: 'absolute', left: 0, top: t - 5, width: '100%', height: 4, background: '#FAE0BC' }} />)}
    </div>
  );
}

function Legend() {
  const boxes = [
    { x: 598, w: 133, kind: 'shale', lx: 665 },
    { x: 916, w: 133, kind: 'fine', lx: 983 },
    { x: 1242, w: 133, kind: 'sand', lx: 1322 },
    { x: 1588, w: 125, kind: 'gas', lx: 1650 },
    { x: 1967, w: 123, kind: 'gw', lx: 2028 },
    { x: 2432, w: 123, kind: 'wgas', lx: 2495 },
  ];
  return (
    <>
      {boxes.map((b, i) => (
        <React.Fragment key={b.kind}>
          <LegendBox x={b.x} w={b.w} kind={b.kind} />
          <Txt x={b.lx} y={1719} size={40} bold>{LEGEND_LABELS[i]}</Txt>
        </React.Fragment>
      ))}
    </>
  );
}

export default function App() {
  return (
    <div style={{ position: 'fixed', left: 0, top: 0, width: 3213, height: 1760, background: '#fff', overflow: 'hidden' }}>
      <Panel p={LEFT} />
      <Panel p={RIGHT} />
      <Legend />
    </div>
  );
}
